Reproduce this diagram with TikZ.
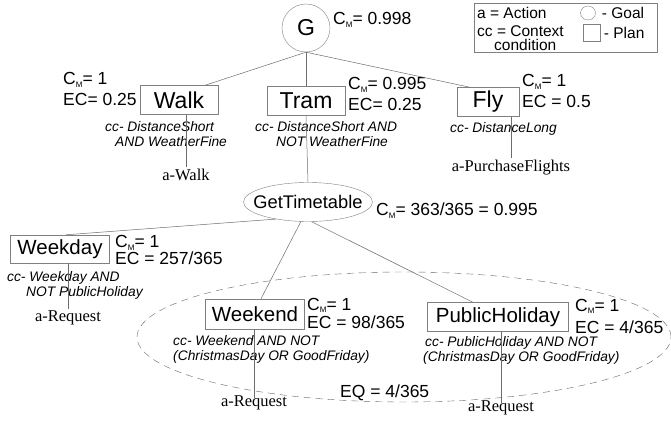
\documentclass[tikz,border=0pt]{standalone}
\usepackage{fontspec}
\setmainfont{Liberation Sans}
\newfontfamily\actfont{Liberation Serif}
\usetikzlibrary{shapes.geometric, positioning}

\newcommand{\CM}{C\raisebox{-0.3ex}{\fontsize{8}{8}\selectfont M}}

\begin{document}
\begin{tikzpicture}[x=1pt, y=-1pt,
    plan/.style={rectangle, draw=gray, fill=white, inner sep=2pt,
                 minimum height=29pt, font=\fontsize{20.5}{22}\selectfont},
    bigplan/.style={plan, font=\fontsize{23}{24}\selectfont},
    goal/.style={ellipse, draw=gray, fill=white, inner sep=1pt},
    val/.style={align=left, anchor=west, inner sep=0pt,
                font=\fontsize{17.5}{21}\selectfont},
    key/.style={val, font=\fontsize{15.5}{14}\selectfont},
    ccl/.style={align=left, anchor=north west, inner sep=0pt,
                font=\fontsize{13.8}{15}\selectfont\itshape},
    act/.style={inner sep=2pt, font=\actfont\fontsize{16.5}{17}\selectfont},
    link/.style={draw=gray!85!black, line width=0.5pt},
    eqregion/.style={ellipse, draw=gray!80!black, dashed, dash pattern=on 7pt off 5pt,
                     minimum width=534pt, minimum height=130pt},
]
\useasboundingbox (0,0) rectangle (671,422);

% Legend
\node[draw=gray, minimum width=183pt, minimum height=49pt] (legend) at (565.5,27.5) {};
\node[key] (la) at (477,13) {a = Action};
\node[key] (lcc) at (477,38) {cc = Context\\\hspace{17pt}condition};
\node[goal, minimum width=15pt, minimum height=14pt] (lgoal) at (588,13) {};
\node[key, right=6pt of lgoal] (lgoalt) {- Goal};
\node[rectangle, draw=gray, minimum size=17pt] (lplan) at (592,33) {};
\node[key, right=3pt of lplan] (lplant) {- Plan};

% Goal G and its plans
\node[goal, minimum size=48pt, font=\fontsize{23}{24}\selectfont] (g) at (306,28) {G};
\node[val] (gval) at (333,20) {\CM= 0.998};

\node[bigplan, minimum width=78pt] (walk) at (179,100) {Walk};
\node[bigplan, minimum width=78pt] (tram) at (306,101) {Tram};
\node[bigplan, minimum width=62pt] (fly)  at (488,102) {Fly};

\node[val] (walkval) at (63,89)  {\CM= 1\\EC= 0.25};
\node[val] (tramval) at (348,94) {\CM= 0.995\\EC= 0.25};
\node[val] (flyval)  at (522,91) {\CM= 1\\EC = 0.5};

\node[ccl] (walkcc) at (105,121) {cc- DistanceShort\\\hspace{10pt}AND WeatherFine};
\node[ccl] (tramcc) at (255,121) {cc- DistanceShort AND\\\hspace{21pt}NOT WeatherFine};
\node[ccl] (flycc)  at (450,122) {cc- DistanceLong};

\node[act] (awalk) at (186,175) {a-Walk};
\node[act] (afly)  at (511,168) {a-PurchaseFlights};

\draw[link] (g.south) -- ([xshift=26pt]walk.north);
\draw[link] (g.south) -- (tram.north);
\draw[link] (g.south) -- ([xshift=-18pt]fly.north);
\draw[link] (walk.south -| awalk.north) -- (awalk.north);
\draw[link] (fly.south -| afly.north) -- (afly.north);

% Goal GetTimetable and its plans
\node[goal, inner xsep=-13pt, inner ysep=0pt, minimum width=129pt, minimum height=39pt,
      font=\fontsize{18.3}{20}\selectfont] (gtt) at (308,202) {GetTimetable};
\node[val] (gttval) at (376,211) {\CM= 363/365 = 0.995};
\draw[link] (tram.south) -- (gtt.north);

\node[eqregion] (eq) at (404,337) {};

\node[plan, minimum width=99pt, minimum height=28pt] (weekday) at (60,249) {Weekday};
\node[plan, minimum width=99pt, minimum height=30pt] (weekend) at (255,314) {Weekend};
\node[plan, minimum width=141pt] (ph) at (498,317) {PublicHoliday};

\node[val, font=\fontsize{17.5}{17.5}\selectfont] (weekdayval) at (115,250) {\CM= 1\\EC = 257/365};
\node[val, font=\fontsize{17.5}{18}\selectfont] (weekendval) at (307,313) {\CM= 1\\EC = 98/365};
\node[val, font=\fontsize{17.5}{22}\selectfont] (phval) at (575,316) {\CM= 1\\EC = 4/365};

\node[ccl] (weekdaycc) at (7,271)   {cc- Weekday AND\\\hspace{19pt}NOT PublicHoliday};
\node[ccl] (weekendcc) at (173,335) {cc- Weekend AND NOT\\(ChristmasDay OR GoodFriday)};
\node[ccl] (phcc)      at (423,336) {\hspace{2pt}cc- PublicHoliday AND NOT\\(ChristmasDay OR GoodFriday)};

\node[act] (aweekday) at (68,318)  {a-Request};
\node[act] (aweekend) at (254,403) {a-Request};
\node[act] (aph)      at (501,408) {a-Request};

\node[val] (eqval) at (340,393) {EQ = 4/365};

\draw[link] (gtt.208) -- ([xshift=6pt]weekday.north);
\draw[link] (gtt.250) -- ([xshift=6pt]weekend.north);
\draw[link] (gtt.280) -- ([xshift=-25pt]ph.north);
\draw[link] (weekday.south -| aweekday.north) -- (aweekday.north);
\draw[link] (weekend.south -| aweekend.north) -- ([yshift=-4pt]aweekend.north);
\draw[link] (ph.south -| aph.north) -- ([yshift=-4pt]aph.north);

\end{tikzpicture}
\end{document}
